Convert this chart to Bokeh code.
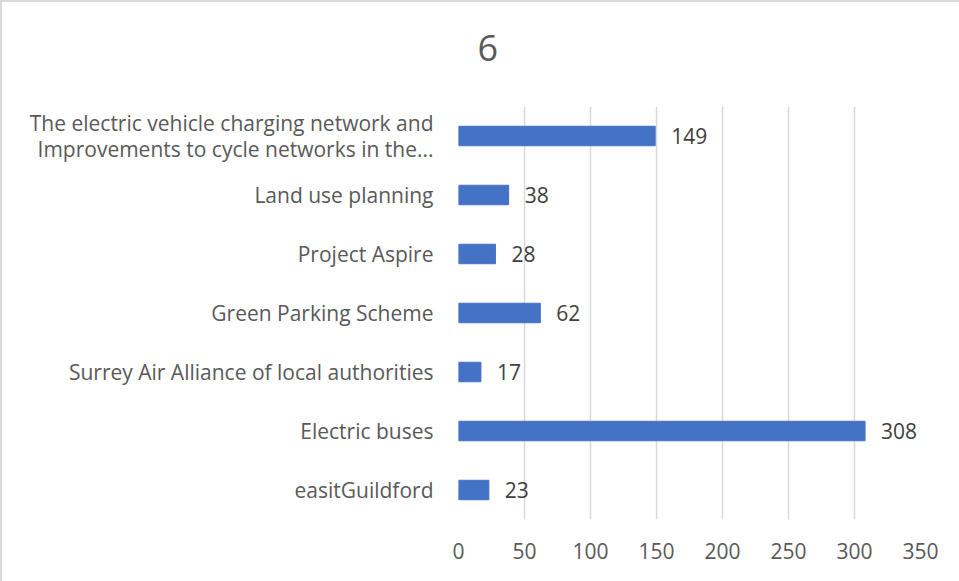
from bokeh.plotting import figure
from bokeh.models import ColumnDataSource, FactorRange, Range1d, FixedTicker
from bokeh.embed import file_html
from bokeh.resources import INLINE
from bokeh.core.properties import value

# data (top to bottom as shown)
categories = [
    "The electric vehicle charging network and\nImprovements to cycle networks in the...",
    "Land use planning",
    "Project Aspire",
    "Green Parking Scheme",
    "Surrey Air Alliance of local authorities",
    "Electric buses",
    "easitGuildford",
]
values = [149, 38, 28, 62, 17, 308, 23]
x_ticks = [0, 50, 100, 150, 200, 250, 300, 350]
title_text = "6"

FONT = "Open Sans"
factors = categories[::-1]

src = ColumnDataSource(dict(cat=categories, val=values, lab=[str(v) for v in values]))

p = figure(
    y_range=FactorRange(factors=factors, range_padding=0),
    x_range=Range1d(0, 350),
    output_backend="svg", toolbar_location=None,
    frame_width=462, frame_height=413,
    min_border_left=456, min_border_right=39, min_border_top=104, min_border_bottom=62,
)
p.outline_line_color = None
p.styles = {"border-left": "2px solid #d9d9d9", "border-top": "2px solid #d9d9d9"}

# trailing blank line lifts the title away from the plot area
p.title.text = title_text + "\n "
p.title.align = "left"
p.title.offset = 19
p.title.standoff = 2
p.title.text_line_height = 0.68
p.title.text_font = FONT
p.title.text_font_size = "36px"
p.title.text_font_style = "normal"
p.title.text_color = "#595959"

p.hbar(y="cat", right="val", left=0, height=0.33, color="#4472C4", source=src)
p.text(x="val", y="cat", text="lab", source=src, x_offset=16,
       text_baseline="middle", text_align="left",
       text_font=value(FONT), text_font_size="21px", text_color="#404040")

p.xaxis.ticker = FixedTicker(ticks=x_ticks)
p.xaxis.axis_line_color = None
p.xaxis.major_tick_line_color = None
p.xaxis.minor_tick_line_color = None
p.xaxis.major_label_text_font = FONT
p.xaxis.major_label_text_font_size = "21px"
p.xaxis.major_label_text_color = "#595959"
p.xaxis.major_label_standoff = 17

p.yaxis.axis_line_color = None
p.yaxis.major_tick_line_color = None
p.yaxis.minor_tick_line_color = None
p.yaxis.major_label_text_font = FONT
p.yaxis.major_label_text_font_size = "21px"
p.yaxis.major_label_text_color = "#595959"
p.yaxis.major_label_text_line_height = 0.9
p.yaxis.major_label_standoff = 19

p.xgrid.grid_line_color = "#d9d9d9"
p.xgrid.grid_line_width = 1.5
p.ygrid.grid_line_color = None

open("out.html", "w").write(file_html(p, INLINE))
